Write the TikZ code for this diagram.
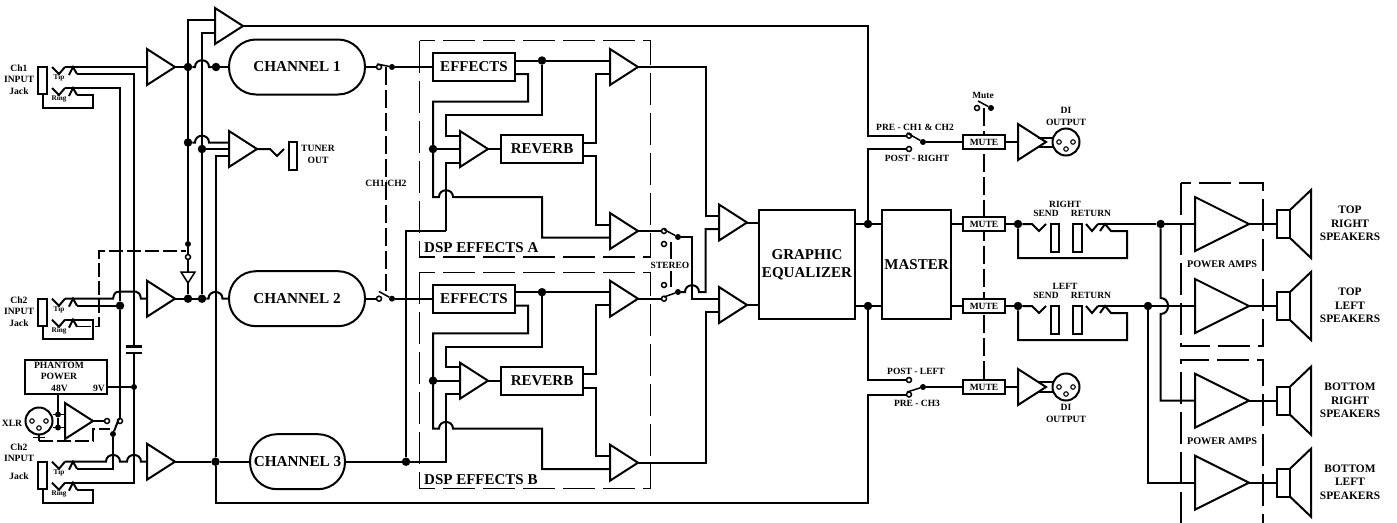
\documentclass[tikz,border=0pt]{standalone}
\usepackage{fontspec}
\setmainfont{Liberation Serif}
\usetikzlibrary{shapes.geometric}
\newcommand\fs[1]{\fontsize{#1}{#1}\selectfont\bfseries}
\newcommand\hump[2]{-- ({#1-7},#2) .. controls ({#1-7},{#2-9}) and ({#1+7},{#2-9}) .. ({#1+7},#2) --}
\newcommand\ampg[5]{%
  \node[ampshape,minimum height=#4pt,minimum width=#5pt,anchor=apex] (#1) at ({#2+#4},#3) {};
  \coordinate (#1i) at (#2,{#3-6.5});
  \coordinate (#1j) at (#2,{#3+6.5});
  \coordinate (#1c) at (#2,#3);
  \coordinate (#1o) at ({#2+#4},#3);}
\newcommand\amp[3]{\ampg{#1}{#2}{#3}{28}{36}}
\newcommand\jack[2]{%
  \node[boxw,minimum width=9pt,minimum height=27pt] (#1) at (42.5,{#2+13.5}) {};
  \draw[wire] (52,#2)--(59,{#2+7})--(65,#2);
  \coordinate (#1ta) at (65,#2);
  \draw[wire] (69,{#2+8})--(73,#2)--(77,{#2+7});
  \coordinate (#1tb) at (77,{#2+7});
  \draw[wire] (52,{#2+21})--(59,{#2+28})--(65,{#2+21});
  \coordinate (#1ra) at (65,{#2+21});
  \draw[wire] (69,{#2+29})--(73,{#2+21})--(77,{#2+28});
  \coordinate (#1rb) at (77,{#2+28});
  \node[tinyl] (#1tl) at (59,{#2+11}) {Tip};
  \node[tinyl] (#1rl) at (59,{#2+32}) {Ring};}
\newcommand\xlr[3]{%
  \node[boxw,circle,minimum size=27pt] (#1) at (#2,#3) {};
  \node[pin] (#1p) at ({#2-7},#3) {};
  \node[pin] (#1q) at ({#2+7},#3) {};
  \node[pin] (#1r) at (#2,{#3+7}) {};}
\newcommand\dsp[2]{%
 \begin{scope}[yshift=#2pt]
  \draw[dsh] (419.5,40.5) rectangle (650.5,257);
  \node[lab15,anchor=west] (dsp#1) at (424,248) {DSP EFFECTS #1};
  \node[boxw,lab15,minimum width=82pt,minimum height=28pt] (ef#1) at (474,67) {EFFECTS};
  \node[boxw,lab15,minimum width=82pt,minimum height=28pt] (rv#1) at (542,149) {REVERB};
  \amp{rp#1}{460}{149}
  \amp{tp#1}{610}{67}
  \amp{bp#1}{610}{231}
  \node[dot] (dfx#1) at (542,60.5) {};
  \node[dot] (drv#1) at (433,149) {};
  \coordinate (eo#1) at (515,60.5);
  \coordinate (ep#1) at (515,74);
  \coordinate (rq#1) at (583,142.7);
  \coordinate (rr#1) at (583,156);
  \coordinate (rpa#1) at (460,135.5);
  \coordinate (rpb#1) at (460,162.6);
  \coordinate (fb#1) at (446,230.6);
  \draw[wire] (eo#1) -- (dfx#1);
  \draw[wire] (dfx#1) -- (tp#1i);
  \draw[wire] (ep#1) -- (528,74) -- (528,101.7) -- (433,101.7) -- (433,197) \hump{446}{197} (542,197) -- (542,237.5) -- (bp#1j);
  \draw[wire] (drv#1) -- (rp#1c);
  \draw[wire] (dfx#1) -- (542,115) -- (446,115) -- (446,135.5) -- (rpa#1);
  \draw[wire] (rpb#1) -- (446,162.6) -- (fb#1);
  \draw[wire] (rp#1o) -- (rv#1);
  \draw[wire] (rq#1) -- (596,142.7) -- (596,73.5) -- (tp#1j);
  \draw[wire] (rr#1) -- (596,156) -- (596,224.5) -- (bp#1i);
 \end{scope}}
\newcommand\sendret[3]{%
  \node[dot] (#1d) at (1018,#2) {};
  \draw[wire] (#1d) -- (1032,#2) -- (1039,{#2+7}) -- (1046,#2);
  \node[boxw,minimum width=8pt,minimum height=28pt] (#1s) at (1055,{#2+14}) {};
  \node[boxw,minimum width=9pt,minimum height=28pt] (#1r) at (1077,{#2+14}) {};
  \draw[wire] (1086,#2) -- (1092,{#2+7}) -- (1098,#2);
  \coordinate (#1o) at (1098,#2);
  \draw[wire] (1100,{#2+7}) -- (1105,#2) -- (1111,{#2+7}) -- (1127,{#2+7}) -- (1127,{#2+34}) -- (1018,{#2+34}) -- (#1d);
  \node[lab10] (#1t) at (1065,{#2-20}) {#3};
  \node[lab10] (#1u) at (1046,{#2-11}) {SEND};
  \node[lab10] (#1v) at (1091,{#2-11}) {RETURN};}
\newcommand\spk[2]{%
  \ampg{pa#1}{1195}{#2}{54}{54}
  \node[boxw,minimum width=13pt,minimum height=28pt] (sp#1) at (1283.5,#2) {};
  \draw[wire] (1290,{#2-14}) -- (1311,{#2-34}) -- (1311,{#2+34}) -- (1290,{#2+14});
  \draw[wire] (pa#1o) -- (sp#1);}
\begin{document}
\begin{tikzpicture}[x=1pt,y=-1pt,
  wire/.style={line width=2pt},
  thinw/.style={line width=1.1pt},
  dsh/.style={line width=1.1pt,dash pattern=on 32pt off 8pt},
  dshb/.style={line width=1.1pt,dash pattern=on 18pt off 5pt},
  ampshape/.style={draw,line width=2pt,fill=white,isosceles triangle,isosceles triangle stretches,inner sep=0pt,outer sep=0pt},
  boxw/.style={draw,line width=2pt,fill=white,inner sep=0pt,outer sep=0pt},
  lab15/.style={font=\fs{15},inner sep=0pt},
  lab10/.style={font=\fs{9.5},inner sep=0pt},
  lab11/.style={font=\fontsize{11.4}{13.6}\selectfont\bfseries,inner sep=0pt,align=center},
  lab9/.style={font=\fontsize{9.6}{11.3}\selectfont\bfseries,inner sep=0pt,align=center},
  tinyl/.style={font=\fs{7.2},inner sep=0pt},
  pin/.style={draw,circle,line width=1.1pt,minimum size=4.5pt,inner sep=0pt,outer sep=0pt,fill=white},
  dot/.style={circle,fill=black,minimum size=8.5pt,inner sep=0pt,outer sep=0pt},
  sdot/.style={circle,fill=black,minimum size=6pt,inner sep=0pt,outer sep=0pt},
  ocirc/.style={circle,draw,line width=1.5pt,fill=white,minimum size=5pt,inner sep=0pt,outer sep=0pt},
  chan/.style={boxw,font=\fs{15.2},rounded corners=27pt,minimum height=55pt},
  mutebox/.style={boxw,font=\fs{9.5},minimum width=42pt,minimum height=14pt}]
\useasboundingbox (0,0) rectangle (1397,522);

% dashed frames and links first
\dsp{A}{0}
\dsp{B}{-231.7}
\draw[dsh] (1181,183) rectangle (1263,346);
\draw[dsh] (1181,524) -- (1181,360) -- (1263,360) -- (1263,524);
\coordinate (mtop) at (984,108);
\coordinate (mbot) at (984,380);
\draw[dshb] (mtop) -- (mbot);
\coordinate (ctop) at (386,67);
\coordinate (cbot) at (386,291);
\draw[dshb] (ctop) -- (cbot);

% jacks
\jack{ja}{67}
\jack{jb}{298.7}
\jack{jc}{461.7}
\node[lab9] (jal) at (19,79.5) {Ch1\\INPUT\\Jack};
\node[lab9] (jbl) at (19,311.5) {Ch2\\INPUT\\Jack};
\node[lab9] (jcl) at (19,447) {Ch2};
\node[lab9] (jcm) at (19,458) {INPUT};
\node[lab9] (jcn) at (19,476) {Jack};

% amps
\amp{ax}{215}{26}
\amp{ai}{147}{67}
\amp{at}{229}{149}
\amp{aj}{147}{298.7}
\amp{ak}{147}{461.7}
\amp{xa}{65}{421}
\amp{ma}{719}{222.5}
\amp{mb}{719}{305}
\amp{da}{1018}{142}
\amp{db}{1018}{387}
\node[ampshape,shape border rotate=270,minimum height=11pt,minimum width=14pt,anchor=apex,line width=1.5pt] (inv) at (188,283) {};

% channels
\node[chan,minimum width=136pt] (ch1) at (297,67) {CHANNEL 1};
\node[chan,minimum width=136pt] (ch2) at (297,298.7) {CHANNEL 2};
\node[chan,minimum width=95pt] (ch3) at (297.5,461.7) {CHANNEL 3};

% junctions on the input side
\node[dot] (d1a) at (188,67) {};
\node[dot] (d1b) at (216,67) {};
\node[dot] (dta) at (188,142.5) {};
\node[dot] (dtb) at (202,149) {};
\node[dot] (d2a) at (188,298.7) {};
\node[dot] (d2b) at (202,298.7) {};
\node[dot] (d2r) at (120,305.7) {};
\node[dot] (d3a) at (215.5,461.7) {};
\node[dot] (d3b) at (406,461.7) {};
\node[sdot] (d9v) at (134,387) {};
\node[sdot] (dsw) at (188,244) {};
\node[ocirc] (osw) at (188,257) {};
\node[sdot] (dxs) at (113,434) {};
\node[ocirc] (oxl) at (107,421) {};
\node[ocirc] (oxr) at (120,421) {};
\node[sdot] (dxa) at (58,414.5) {};
\node[sdot] (dxb) at (58,427.5) {};

% capacitor
\coordinate (capt) at (134,346.5);
\coordinate (capb) at (134,352.8);
\draw[wire,line width=2.6pt] (126,346.5) -- (capt) -- (142,346.5);
\draw[wire,line width=2.6pt] (126,352.8) -- (capb) -- (142,352.8);

% phantom power and XLR
\node[boxw,minimum width=82pt,minimum height=34pt] (ph) at (66,377) {};
\node[lab9] (phl) at (59,371) {PHANTOM\\POWER};
\node[lab9] (ph48) at (59.5,388) {48V};
\node[lab9] (ph9) at (99,388) {9V};
\xlr{xl}{39}{421}
\node[lab9,font=\fs{9.6}] (xlt) at (12,423) {XLR};
\coordinate (ph9o) at (107,387);
\coordinate (ph48o) at (58,394);
\draw[thinw] (ph9o) -- (d9v);
\draw[thinw] (ph48o) -- (dxa);
\draw[thinw] (dxa) -- (dxb);
\coordinate (xle) at (53,414.5);
\coordinate (xlf) at (53,427.5);
\draw[wire,line width=1.5pt] (xle) -- (xai);
\draw[wire,line width=1.5pt] (xlf) -- (xaj);
\draw[wire] (xao) -- (oxl);
\draw[wire] (dxs) -- (119,418.5);
\coordinate (gnd) at (39,441);
\coordinate (xsb) at (110,429);
\draw[thinw] (39,435) -- (gnd);
\draw[thinw] (33,437.5) -- (45,437.5);
\draw[thinw,dash pattern=on 14pt off 4pt] (gnd) -- (93,441) -- (93,429) -- (xsb);

% jack wiring
\draw[wire] (jata) -- (aic);
\draw[wire] (jatb) -| (capt);
\draw[wire] (jara) -| (d2r);
\draw[wire] (jarb) -- (93,95) -- (93,108) -- (42.5,108) -- (ja);
\draw[wire] (jbta) -- (113,298.7) .. controls (114,294) and (115,291.7) .. (119,291.7) -- (136,291.7) .. controls (139,291.7) and (140,294) .. (141,298.7) -- (ajc);
\draw[wire] (jbtb) -- (d2r);
\draw[wire] (jbra) -- (93,319.7) -- (93,339) -- (42.5,339) -- (jb);
\coordinate (sla) at (186,251);
\draw[thinw,dash pattern=on 14pt off 4pt] (jbrb) -- (99,326.7) -- (99,251) -- (sla);
\draw[wire] (d2r) -- (oxr);
\draw[wire] (jcta) \hump{113}{461.7} (127,461.7) .. controls (127,452.7) and (141,452.7) .. (141,461.7) -- (akc);
\draw[wire] (jctb) -- (113,468.7) -- (dxs);
\draw[wire] (jcra) -- (134,482.7) -- (capb);
\draw[wire] (jcrb) -- (93,489.7) -- (93,502.5) -- (42.5,502.5) -- (jc);

% busses
\draw[wire] (aio) -- (d1a);
\draw[wire] (d1a) \hump{202}{67} (d1b);
\draw[wire] (d1b) -- (ch1);
\draw[wire] (axi) -| (dsw);
\draw[wire] (axj) -| (d2b);
\draw[wire] (dta) \hump{202}{142.5} (ati);
\draw[wire] (dtb) -- (atc);
\draw[wire] (atj) -- (215.5,155.5) -- (d3a);
\draw[wire] (dsw) -- (osw);
\draw[wire,line width=1.5pt] (osw) -- (inv);
\draw[wire] (inv) -- (d2a);
\draw[wire] (ajo) -- (d2a);
\draw[wire] (d2a) -- (d2b);
\draw[wire] (d2b) \hump{215.5}{298.7} (ch2);
\draw[wire] (ako) -- (d3a);
\draw[wire] (d3a) -- (ch3);
\draw[wire] (ch3) -- (d3b);

% tuner
\node[boxw,minimum width=8pt,minimum height=28pt] (tun) at (293,156) {};
\node[lab9] (tunl) at (318,154.5) {TUNER\\OUT};
\draw[wire] (ato) -- (270,149) -- (277,156) -- (284,149);

% channel switches
\node[ocirc] (s1a) at (379,67) {};
\node[sdot] (s1b) at (392,67) {};
\node[ocirc] (s2a) at (379,298.7) {};
\node[sdot] (s2b) at (392,298.7) {};
\draw[wire] (ch1) -- (s1a);
\draw[wire,line width=1.5pt] (377,64) -- (s1b);
\draw[wire] (s1b) -- (efA);
\draw[wire] (ch2) -- (s2a);
\draw[wire,line width=1.5pt] (379,291.5) -- (s2b);
\draw[wire] (s2b) -- (efB);
\node[lab9] (chsw) at (386,183) {CH1/CH2};

% DSP feed
\draw[wire] (d3b) -- (406,230.6) -- (fbA);
\draw[wire] (d3b) -- (446,461.7) -- (fbB);

% stereo link
\node[ocirc] (sa1) at (664,231) {};
\node[sdot] (sa2) at (678,237) {};
\node[ocirc] (sa3) at (664,244) {};
\node[ocirc] (sb3) at (664,285) {};
\node[ocirc] (sb1) at (664,298.7) {};
\node[sdot] (sb2) at (678,292) {};
\node[lab10,font=\fs{9.5}] (stereo) at (670,265) {STEREO};
\coordinate (sl1) at (671,242);
\coordinate (sl2) at (671,258.5);
\coordinate (sl3) at (671,270.5);
\coordinate (sl4) at (671,287);
\draw[thinw] (sl1) -- (sl2);
\draw[thinw] (sl3) -- (sl4);
\draw[wire] (bpAo) -- (sa1);
\draw[wire,line width=1.5pt] (664,229.5) -- (sa2);
\draw[wire] (sa2) -- (692,237) |- (mbi);
\draw[wire] (tpBo) -- (sb1);
\draw[wire,line width=1.5pt] (664,297) -- (sb2);
\draw[wire] (sb2) \hump{692}{292} (705.6,292) |- (maj);
\draw[wire] (tpAo) -- (705.6,67) |- (mai);
\draw[wire] (bpBo) -- (705.6,462.7) |- (mbj);

% equalizer and master
\node[boxw,align=center,font=\fontsize{15}{17.5}\selectfont\bfseries,minimum width=96pt,minimum height=109pt] (geq) at (807,264.5) {GRAPHIC\\EQUALIZER};
\node[boxw,font=\fs{15},minimum width=69pt,minimum height=109pt] (mas) at (916.5,264.5) {MASTER};
\draw[wire] (mao) -- (mao -| geq.west);
\draw[wire] (mbo) -- (mbo -| geq.west);
\node[dot] (gqa) at (868,224) {};
\node[dot] (gqb) at (868,306) {};
\coordinate (gqao) at (855,224);
\coordinate (gqbo) at (855,306);
\coordinate (maia) at (882,224);
\coordinate (maib) at (882,306);
\draw[wire] (gqao) -- (gqa);
\draw[wire] (gqa) -- (maia);
\draw[wire] (gqbo) -- (gqb);
\draw[wire] (gqb) -- (maib);

% monitor switches
\node[ocirc] (pr1) at (909,135.7) {};
\node[ocirc] (pr2) at (909,149) {};
\node[sdot] (pr3) at (923,142) {};
\node[ocirc] (pl1) at (909,380) {};
\node[ocirc] (pl2) at (909,394.5) {};
\node[sdot] (pl3) at (923,387) {};
\draw[wire] (axo) -- (868,26) -- (868,135.7) -- (pr1);
\draw[wire] (gqa) -- (868,149) -- (pr2);
\draw[wire] (gqb) -- (868,380) -- (pl1);
\draw[wire] (d3a) -- (215.5,502.7) -- (868,502.7) -- (868,394.5) -- (pl2);
\draw[wire,line width=1.5pt] (907,133) -- (pr3);
\draw[wire,line width=1.5pt] (907,392) -- (pl3);

\node[lab10] (lp1) at (915,127) {PRE - CH1 \& CH2};
\node[lab10] (lp2) at (917,158) {POST - RIGHT};
\node[lab10] (lp3) at (916,371) {POST - LEFT};
\node[lab10] (lp4) at (917,403) {PRE - CH3};

% mutes
\node[mutebox] (m1) at (984,142) {MUTE};
\node[mutebox] (m2) at (984,224) {MUTE};
\node[mutebox] (m3) at (984,306) {MUTE};
\node[mutebox] (m4) at (984,387) {MUTE};
\draw[wire] (pr3) -- (m1);
\draw[wire] (pl3) -- (m4);
\draw[wire] (m1) -- (dac);
\draw[wire] (m4) -- (dbc);
\coordinate (mao2) at (951,224);
\coordinate (mbo2) at (951,306);
\draw[wire] (mao2) -- (m2);
\draw[wire] (mbo2) -- (m3);

% mute switch
\node[ocirc] (ms1) at (977,108) {};
\node[sdot] (ms2) at (991,108) {};
\draw[wire,line width=1.5pt] (978,101) -- (ms2);
\node[lab10,font=\fs{9.4}] (mslab) at (983,95) {Mute};

% DI outputs
\xlr{xa1}{1066}{142}
\xlr{xa2}{1066}{387}
\coordinate (q1) at (1038,137.5);
\coordinate (q2) at (1038,146.5);
\coordinate (q3) at (1038,382);
\coordinate (q4) at (1038,392);
\draw[wire] (q1) -- (q1 -| xa1.west);
\draw[wire] (q2) -- (q2 -| xa1.west);
\draw[wire] (q3) -- (q3 -| xa2.west);
\draw[wire] (q4) -- (q4 -| xa2.west);
\node[lab9,font=\fontsize{9.6}{11.3}\selectfont\bfseries] (dil1) at (1066,116.5) {DI\\OUTPUT};
\node[lab9,font=\fontsize{9.6}{11.3}\selectfont\bfseries] (dil2) at (1066,413.5) {DI\\OUTPUT};

% send / return
\sendret{sr}{224}{RIGHT}
\sendret{sl}{306}{LEFT}
\draw[wire] (m2) -- (srd);
\draw[wire] (m3) -- (sld);

% power amps and speakers
\spk{a}{224}
\spk{b}{306}
\spk{c}{400.7}
\spk{d}{482.7}
\node[dot] (pda) at (1160.7,224) {};
\node[dot] (pdb) at (1148,306) {};
\draw[wire] (sro) -- (pda);
\draw[wire] (pda) -- (paac);
\draw[wire] (slo) -- (pdb);
\draw[wire] (pdb) -- (pabc);
\draw[wire] (pda) -- (1160.7,298) .. controls (1170.5,298) and (1170.5,314) .. (1160.7,314) -- (1160.7,400.7) -- (pacc);
\draw[wire] (pdb) -- (1148,482.7) -- (padc);
\node[lab10,font=\fs{10.2}] (pal1) at (1222,264) {POWER AMPS};
\node[lab10,font=\fs{10.2}] (pal2) at (1222,441) {POWER AMPS};
\node[lab11] (spa) at (1350,223.5) {TOP\\RIGHT\\SPEAKERS};
\node[lab11] (spb) at (1350,305.5) {TOP\\LEFT\\SPEAKERS};
\node[lab11] (spc) at (1350,400.5) {BOTTOM\\RIGHT\\SPEAKERS};
\node[lab11] (spd) at (1350,482) {BOTTOM\\LEFT\\SPEAKERS};
\end{tikzpicture}
\end{document}
